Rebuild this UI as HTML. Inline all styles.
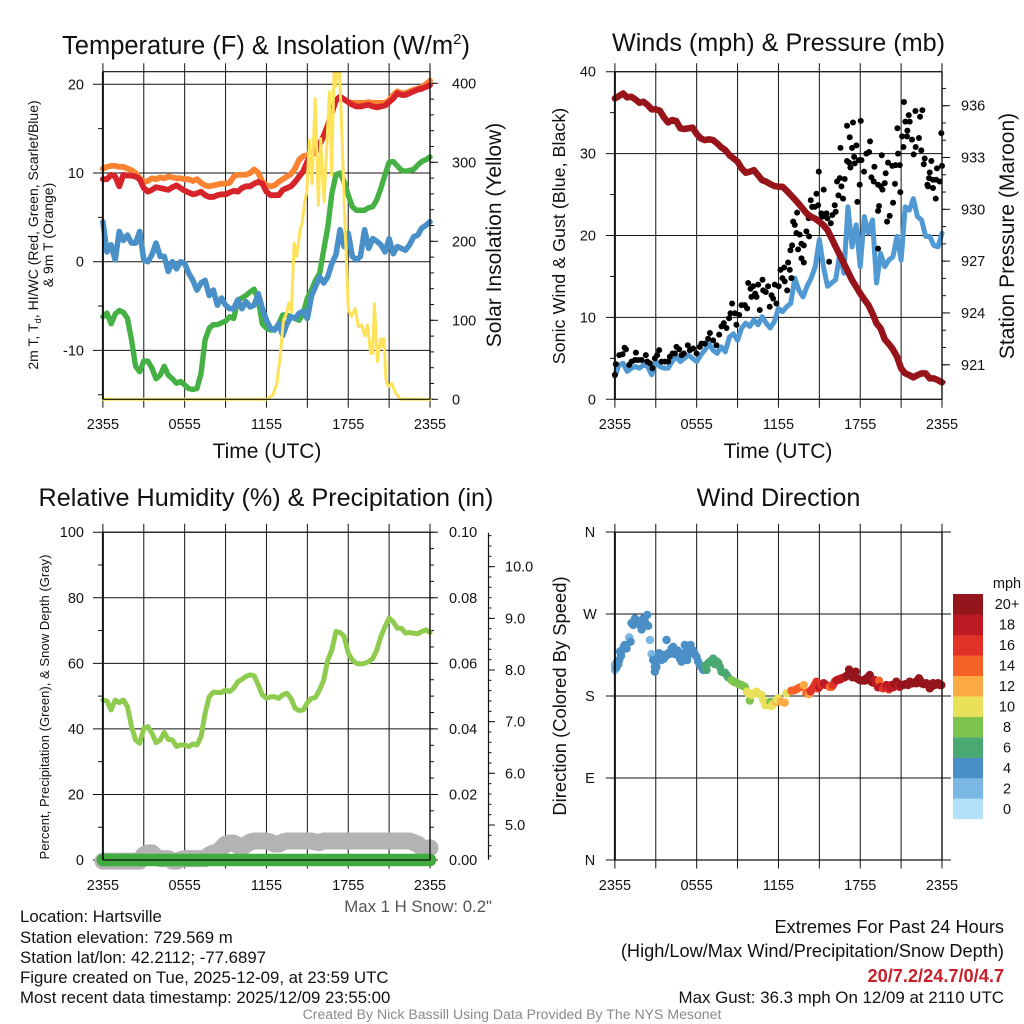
<!DOCTYPE html>
<html lang="en">
<head>
<meta charset="utf-8">
<title>Hartsville Mesonet Meteogram</title>
<style>
html,body{margin:0;padding:0;background:#fff;width:1024px;height:1024px;overflow:hidden}
svg{display:block}
text{font-family:"Liberation Sans",sans-serif;fill:#111}
</style>
</head>
<body>
<svg id="figure" xmlns="http://www.w3.org/2000/svg" width="1024" height="1024" viewBox="0 0 1024 1024">
<defs><clipPath id="solar-clip"><rect x="95" y="71.7" width="345" height="335"/></clipPath></defs>
<g id="layer-grid"></g>
<g id="layer-data"></g>
<g id="layer-axes"></g>

<text x="266" y="54" font-size="25.5" text-anchor="middle">Temperature (F) &amp; Insolation (W/m<tspan font-size="15" dy="-10">2</tspan><tspan dy="10">)</tspan></text>
<text x="778.5" y="51" font-size="25.2" text-anchor="middle">Winds (mph) &amp; Pressure (mb)</text>
<text x="266" y="506" font-size="25.2" text-anchor="middle">Relative Humidity (%) &amp; Precipitation (in)</text>
<text x="778.5" y="506" font-size="25.2" text-anchor="middle">Wind Direction</text>

<text x="267" y="458" font-size="21" text-anchor="middle">Time (UTC)</text>
<text x="778" y="458" font-size="21" text-anchor="middle">Time (UTC)</text>

<text transform="translate(38,235) rotate(-90)" font-size="14" text-anchor="middle">2m T, T<tspan font-size="9.5" dy="3">d</tspan><tspan dy="-3">, HI/WC (Red, Green, Scarlet/Blue)</tspan></text>
<text transform="translate(53,235) rotate(-90)" font-size="14" text-anchor="middle">&amp; 9m T (Orange)</text>
<text transform="translate(501,235) rotate(-90)" font-size="21" text-anchor="middle">Solar Insolation (Yellow)</text>
<text transform="translate(565,236) rotate(-90)" font-size="17.9" text-anchor="middle">Sonic Wind &amp; Gust (Blue, Black)</text>
<text transform="translate(1014,236) rotate(-90)" font-size="21" text-anchor="middle">Station Pressure (Maroon)</text>
<text transform="translate(49,707) rotate(-90)" font-size="13.1" text-anchor="middle">Percent, Precipitation (Green), &amp; Snow Depth (Gray)</text>
<text transform="translate(566,696) rotate(-90)" font-size="18.4" text-anchor="middle">Direction (Colored By Speed)</text>

<text x="492" y="912" font-size="16.8" text-anchor="end" style="fill:#555">Max 1 H Snow: 0.2"</text>
<text x="20" y="922" font-size="16.8">Location: Hartsville</text>
<text x="20" y="943" font-size="16.8">Station elevation: 729.569 m</text>
<text x="20" y="963" font-size="16.8">Station lat/lon: 42.2112; -77.6897</text>
<text x="20" y="983" font-size="16.8">Figure created on Tue, 2025-12-09, at 23:59 UTC</text>
<text x="20" y="1003" font-size="16.8">Most recent data timestamp: 2025/12/09 23:55:00</text>
<text x="1004" y="933" font-size="18.2" text-anchor="end">Extremes For Past 24 Hours</text>
<text x="1004" y="957" font-size="18.2" text-anchor="end">(High/Low/Max Wind/Precipitation/Snow Depth)</text>
<text x="1004" y="982" font-size="18.2" font-weight="bold" text-anchor="end" style="fill:#c8202a">20/7.2/24.7/0/4.7</text>
<text x="1004" y="1003" font-size="16.9" text-anchor="end">Max Gust: 36.3 mph On 12/09 at 2110 UTC</text>
<text x="512" y="1019" font-size="14.1" text-anchor="middle" style="fill:#8a8a8a">Created By Nick Bassill Using Data Provided By The NYS Mesonet</text>
</svg>

<script>
// ---------- categories and tick labels ----------
const timeTickLabels = ['2355','0555','1155','1755','2355'];
const tempTicks = [-10,0,10,20];
const tempMinorTicks = [-15,-5,5,15];
const solarTicks = [0,100,200,300,400];
const windTicks = [0,10,20,30,40];
const windMinorTicks = [5,15,25,35];
const pressureTicks = [921,924,927,930,933,936];
const humidityTicks = [0,20,40,60,80,100];
const humidityMinorTicks = [10,30,50,70,90];
const precipTicks = ['0.00','0.02','0.04','0.06','0.08','0.10'];
const snowTicks = ['5.0','6.0','7.0','8.0','9.0','10.0'];
const compassTicks = [['N',0],['E',90],['S',180],['W',270],['N',360]];
const speedBinLabels = ['0','2','4','6','8','10','12','14','16','18','20+'];
const speedBinColors = ['#b3e1f9','#7bb8e4','#4a8fc6','#4aa871','#7cc44e','#e9e159','#fbaa44','#f46227','#e03226','#bb1a23','#94151b'];

// ---------- series on an 18-minute grid (81 samples) ----------
const temp2m = [9.3,9.3,9.8,9.6,8.5,9.8,9.7,9.7,9.6,9.3,8.3,
 7.9,8.1,8.4,8.3,8.2,8.1,8.4,8.6,8.3,8.0,
 7.8,7.6,7.7,7.9,7.5,7.3,7.3,7.5,7.6,7.6,
 7.8,8.0,7.9,8.3,8.5,8.5,8.8,9.0,8.8,7.9,
 7.5,7.5,7.5,8.1,8.3,8.5,9.0,9.6,10.2,11.3,
 12.0,12.4,13.2,14.2,15.3,16.8,18.2,18.6,18.3,18.0,
 17.7,17.5,17.5,17.6,17.7,17.5,17.4,17.5,17.6,18.0,
 18.4,19.0,18.8,18.8,19.0,19.2,19.4,19.5,19.7,19.9];
const temp9m = [10.5,10.7,10.8,10.8,10.7,10.7,10.5,10.3,10.0,9.4,9.0,
 9.1,9.4,9.3,9.5,9.4,9.6,9.5,9.4,9.4,9.3,
 9.3,9.1,9.3,8.9,8.6,8.5,8.6,8.7,8.8,8.8,
 8.9,9.6,9.8,9.8,9.8,10.0,10.4,10.0,9.0,8.6,
 8.5,8.6,9.0,9.3,9.6,9.9,10.5,11.5,11.9,12.0,
 12.1,12.4,13.2,14.2,15.4,16.9,18.2,18.6,18.3,18.0,
 17.9,17.9,17.9,17.9,18.0,17.9,17.9,17.9,17.9,18.2,
 18.8,19.2,19.0,19.0,19.2,19.4,19.5,19.7,20.0,20.4];
const windChill = [4.5,1.1,1.9,0.2,3.4,2.4,3.0,2.1,2.1,3.4,0.2,
 0,0.8,2.1,0.6,0.6,-1.1,0,-0.8,0,-0.2,
 -1.3,-2.1,-3.2,-2.4,-2.1,-3.8,-3.2,-4.9,-4.1,-4.9,
 -5.3,-5.3,-4.3,-5.3,-4.5,-5.1,-4.9,-3.6,-5.3,-6.6,
 -7.5,-7.7,-7.0,-8.3,-7.0,-6.2,-6.4,-5.8,-5.6,-6.4,
 -3.9,-2.8,-1.7,-2.4,-1.7,-0.2,0.8,3.6,1.7,3.2,
 0.6,0.2,0.6,3.6,1.5,2.6,2.3,1.9,1.1,2.6,
 0.9,1.7,1.5,1.3,1.9,2.8,3.0,3.8,4.1,4.5];
const dewPoint = [-6.2,-5.8,-7.0,-5.9,-5.5,-5.7,-6.4,-8.8,-11.8,-12.4,-11.2,
 -11.2,-12.0,-13.2,-12.8,-11.8,-12.8,-13.2,-13.7,-13.5,-13.9,
 -14.3,-14.4,-14.3,-12.6,-8.8,-7.5,-7.1,-7.1,-6.9,-6.7,
 -6.2,-6.4,-4.3,-4.1,-3.8,-3.4,-3.1,-4.3,-7.0,-7.5,
 -7.7,-7.7,-7.0,-6.0,-6.0,-6.2,-6.4,-6.6,-5.8,-4.1,
 -3.2,-2.1,-1.3,1.3,3.9,7.7,9.8,10.0,9.0,7.5,
 6.2,5.8,5.8,5.8,6.1,6.2,7.0,8.3,9.8,11.2,
 11.3,10.8,10.3,10.2,10.3,10.4,10.9,11.3,11.5,11.8];
const sonicWind = [2.8,4.2,4.4,3.4,3.8,4.0,3.8,4.2,4.0,3.0,4.6,
 4.0,3.8,3.8,4.6,5.2,4.6,5.0,5.4,5.0,4.6,
 5.4,6.0,6.8,6.0,5.6,6.4,5.8,7.6,8.0,7.2,
 8.7,9.3,8.9,9.7,9.1,10.1,9.3,8.7,9.5,11.1,
 10.7,11.3,11.7,14.8,13.3,12.5,13.8,14.8,16.2,19.5,
 16.2,13.8,14.2,14.6,17.8,15.4,23.5,18.6,21.3,16.2,
 22.3,20.3,21.9,14.2,17.8,16.2,17.0,17.4,19.9,17.0,
 23.5,23.1,24.5,22.3,21.9,19.9,19.9,18.8,18.6,20.3];
const stationPressure = [936.42,936.56,936.71,936.48,936.52,936.37,936.17,936.23,936.04,935.79,935.79,
 935.71,935.32,935.03,935.17,935.11,934.69,934.65,934.69,934.73,934.36,
 934.11,934.01,934.05,934.01,933.82,933.59,933.43,933.14,932.95,932.76,
 932.37,932.12,932.18,932.27,931.98,931.69,931.6,931.46,931.35,931.31,
 931.31,931.08,930.83,930.58,930.31,930.02,929.73,929.57,929.46,929.28,
 929.09,928.8,928.32,927.83,927.35,926.87,926.39,925.9,925.52,925.13,
 924.78,924.46,923.97,923.39,923.1,922.47,922.2,921.89,921.46,920.79,
 920.5,920.4,920.27,920.4,920.5,920.5,920.21,920.21,920.11,919.98];
const relativeHumidity = [48.8,48.5,45.8,48.8,48,48.8,46.8,40.7,36.6,35.6,40.2,
 40.7,38.7,35.8,36.6,38.9,36.8,36.6,34.6,35.1,35.1,
 34.6,35.4,35.1,37.6,44.8,49.8,51.2,51.1,51.1,51.9,
 51.4,52.4,54.4,55.1,56,56.5,56.2,53.4,50.4,49.3,
 49.8,49.8,49.3,50.4,50.9,49.3,46.3,45.6,45.8,48,
 49.3,49.6,51.9,54.9,61,64.1,69.7,69.4,68.2,63.1,
 61,60,59.8,60,60.5,61.5,64.1,68.2,71.2,73.8,
 72.7,70.7,70.7,69.2,69.4,69.2,69,69.7,70.2,69.4];
const snowDepth = [4.30,4.30,4.30,4.30,4.30,4.30,4.30,4.30,4.30,4.30,4.42,
 4.46,4.46,4.38,4.35,4.35,4.35,4.30,4.30,4.33,4.35,
 4.35,4.35,4.35,4.35,4.35,4.42,4.46,4.46,4.55,4.63,
 4.65,4.65,4.60,4.56,4.62,4.67,4.69,4.69,4.69,4.69,
 4.67,4.63,4.63,4.67,4.69,4.69,4.69,4.69,4.69,4.69,
 4.69,4.67,4.66,4.69,4.69,4.69,4.69,4.69,4.69,4.69,
 4.69,4.69,4.69,4.69,4.69,4.69,4.69,4.69,4.69,4.69,
 4.69,4.69,4.69,4.69,4.69,4.66,4.63,4.56,4.53,4.56];
const precipitation = [0,0,0,0,0,0,0,0,0,0,0,0,0,0,0,0,0,0,0,0,0,0,0,0,0,0,0,0,0,0,0,0,0,0,0,0,0,0,0,0,0,
 0,0,0,0,0,0,0,0,0,0,0,0,0,0,0,0,0,0,0,0,0,0,0,0,0,0,0,0,0,0,0,0,0,0,0,0,0,0,0,0];

// ---------- solar radiation (hours since start, W/m2) ----------
const solarHours = [0,12.02,12.46,12.76,13.0,13.25,13.49,13.64,13.83,14.03,14.22,14.47,14.62,14.83,14.96,15.15,15.35,15.57,15.81,15.98,16.23,16.62,16.79,16.96,17.06,17.18,17.35,17.52,17.77,18.01,18.26,18.5,18.75,18.99,19.23,19.41,19.65,19.8,19.92,20.14,20.38,20.53,20.63,20.77,20.94,21.19,21.43,21.8,24];
const solarValues = [0,0,5,20,54,100,110,122,110,198,181,215,223,253,262,328,273,381,246,330,250,389,284,418,396,418,418,345,218,113,105,115,92,94,80,94,58,58,121,48,77,67,77,25,16,20,10,0,0];

// ---------- gust observations (hours since start, mph) ----------
const gustHours = [0,0.07,0.32,0.56,0.71,0.81,1.05,1.22,1.47,1.54,1.71,1.96,2.27,2.37,2.57,2.76,2.93,3.1,3.25,3.42,3.67,3.91,4.03,4.23,4.4,4.52,4.72,4.89,5.06,5.35,5.5,5.74,5.99,6.23,6.35,6.6,6.84,6.97,7.21,7.45,7.65,7.82,7.99,8.19,8.38,8.48,8.6,8.8,8.92,9.12,9.29,9.53,9.7,9.78,9.95,10.02,10.14,10.29,10.39,10.51,10.63,10.83,10.88,11.07,11.24,11.36,11.49,11.61,11.73,11.85,12.02,12.15,12.29,12.42,12.46,12.64,12.71,12.83,12.95,12.88,13.0,13.08,13.2,13.32,13.37,13.44,13.56,13.69,13.69,13.86,13.86,14.05,14.25,14.22,14.37,14.47,14.66,14.79,14.91,14.96,15.15,15.23,15.32,15.52,15.59,15.72,15.84,15.96,16.13,16.2,16.3,16.4,16.5,16.55,16.62,16.74,16.86,17.03,17.03,17.18,17.23,17.28,17.4,17.47,17.55,17.6,17.72,17.79,17.91,17.96,18.04,18.09,18.28,18.45,18.65,18.72,18.82,18.99,19.04,19.31,19.31,19.31,19.38,19.5,19.58,19.63,19.8,19.87,19.97,20.04,20.16,20.36,20.41,20.55,20.6,20.73,20.77,20.9,20.94,21.07,21.17,21.21,21.31,21.43,21.46,21.56,21.63,21.8,21.92,22.05,22.07,22.31,22.39,22.48,22.56,22.66,22.73,22.93,22.97,23.05,23.1,23.22,23.34,23.34,23.54,23.58,23.63,23.83,23.95,24];
const gustSpeeds = [3.0,4.3,5.4,5.5,6.3,6.1,4.2,4.6,4.8,5.7,4.8,4.8,5.4,4.6,4.4,3.8,5.0,5.4,6.0,4.6,4.6,4.6,5.2,5.6,5.6,6.4,6.1,5.4,5.6,6.6,6.0,6.2,5.6,6.4,6.8,6.8,7.4,8.1,7.2,6.6,7.9,8.9,9.3,8.7,9.9,10.5,11.7,10.5,9.1,10.3,11.5,11.5,11.1,14.2,13.5,12.5,13.8,12.9,12.5,14.0,10.9,14.6,13.3,13.1,13.8,11.3,12.7,12.3,14.0,11.7,13.8,15.8,14.8,16.1,14.4,13.3,16.7,15.8,14.8,18.2,18.8,21.7,21.3,20.3,22.8,18.3,20.1,19.0,17.2,18.8,16.7,20.5,19.9,22.1,24.3,23.5,23.5,25.1,23.7,27.8,22.7,22.3,25.6,22.7,22.1,16.8,21.5,22.5,23.7,22.9,26.6,24.9,27.0,30.7,26.0,24.5,26.9,33.4,29.1,28.9,32.0,28.3,30.7,33.8,29.6,28.8,31.0,24.1,29.2,26.2,34.0,29.2,27.8,30.0,30.2,31.5,27.1,26.6,28.4,26.2,23.0,18.4,23.6,26.0,29.8,25.6,26.4,27.6,21.7,28.9,22.4,28.5,24.0,26.3,28.6,33.1,30.0,28.6,25.3,32.1,30.8,36.3,33.9,32.1,32.8,34.7,33.9,31.7,29.9,35.2,30.8,31.9,34.5,30.4,35.3,28.7,29.4,26.2,26.0,27.0,27.7,29.1,26.8,25.8,24.5,26.8,28.2,26.6,32.5,28.5];

// ---------- wind direction observations (hours, degrees, mph) ----------
const directionHours = [0,0,0.12,0.17,0.25,0.32,0.37,0.45,0.56,0.65,0.73,0.86,1.05,1.15,1.22,1.34,1.4,1.47,1.59,1.7,1.83,1.96,2.0,2.08,2.2,2.37,2.44,2.57,2.69,2.81,2.93,2.93,3.05,3.15,3.25,3.3,3.42,3.54,3.6,3.75,3.79,3.91,4.0,4.16,4.28,4.4,4.52,4.6,4.77,4.89,5.0,5.13,5.2,5.31,5.45,5.55,5.69,5.8,5.9,5.99,6.1,6.23,6.35,6.48,6.6,6.72,6.72,6.85,6.97,7.1,7.21,7.33,7.45,7.58,7.7,7.82,7.95,8.07,8.2,8.31,8.55,8.7,8.8,8.92,9.1,9.29,9.4,9.53,9.7,9.8,9.9,10.02,10.2,10.39,10.6,10.75,10.88,11.05,11.2,11.3,11.41,11.49,11.6,11.85,11.9,11.98,12.2,12.46,12.59,12.95,13.1,13.32,13.5,13.69,13.86,14.05,14.15,14.25,14.35,14.42,14.59,14.7,14.79,14.91,15.0,15.15,15.32,15.5,15.76,15.9,16.0,16.13,16.25,16.37,16.5,16.62,16.75,16.86,16.99,17.1,17.18,17.3,17.42,17.55,17.67,17.8,17.96,18.1,18.33,18.45,18.6,18.7,18.8,18.94,19.06,19.15,19.31,19.38,19.5,19.67,19.8,19.92,20.0,20.11,20.2,20.28,20.41,20.55,20.65,20.8,20.9,21.0,21.14,21.3,21.51,21.63,21.75,21.87,22.0,22.12,22.2,22.31,22.4,22.48,22.65,22.85,23.0,23.1,23.2,23.34,23.46,23.6,23.71,23.85,23.95];
const directionDegrees = [214,208.5,211.5,217.7,215,219.5,228.7,224,230.5,234,236,232.3,244.4,239.6,260,258,262,265,263,261,258,253,259,265,262,269,257,241.5,226,219.5,206.7,212,212,220,227,222,219.5,225,221,224,241.5,227,226,232,234,226,227,230,221,217.7,226,236,229,219.5,226,236,230.5,228,225,223,218,214,212,208.5,213,214,208.5,216,217.7,219,221,215,218,216.6,212,206.7,206,205.6,203,200.5,197.5,196,195,194.6,193,192,191,190,184.7,183,175,181,183,184.7,182,181,175.6,170,170,170,173.8,169,171,173.8,176,177.5,174,172.7,183,185.8,186,187.3,189,190,192,183,184,182,185,186.6,190,193,195.7,188.4,190,192,194,192,190,190,192,195.7,197,198,198,199.4,200,200.5,202,203,209,202,200.5,203,206.7,199,197.5,197,196.8,199.4,199,203,196,194.6,197.5,194,189.5,196.8,190,188.4,190,192,189,187.3,189,192,189.5,193,195.7,192,190,192,192,193,192,195.7,194,194,195,194,197,199.4,197,194,193,194,192,188.4,190,194,192,193,194,192,192];
const directionSpeeds = [3,3,4.5,4.5,4.5,4.5,4.5,4.5,4.5,4.5,4.5,4.5,3,4.5,4.5,4.5,4.5,4.5,4.5,4.5,4.5,4.5,4.5,4.5,4.5,4.5,4.5,3,3,4.5,4.5,4.5,4.5,4.5,4.5,4.5,4.5,4.5,4.5,4.5,4.5,4.5,4.5,4.5,4.5,4.5,4.5,4.5,4.5,4.5,4.5,4.5,4.5,4.5,4.5,4.5,4.5,4.5,4.5,4.5,4.5,4.5,4.5,4.5,6.5,6.5,6.5,6.5,6.5,6.5,6.5,6.5,6.5,6.5,6.5,6.5,6.5,6.5,6.5,6.5,8.5,8.5,8.5,8.5,8.5,8.5,8.5,8.5,10.5,10.5,8.5,10.5,10.5,10.5,10.5,10.5,10.5,10.5,10.5,10.5,8.5,10.5,10.5,12.5,10.5,10.5,12.5,12.5,10.5,14.5,14.5,14.5,14.5,14.5,12.5,14.5,14.5,12.5,16.5,16.5,16.5,16.5,17,16.5,18.5,16.5,18.5,18.5,14.5,14.5,16.5,16.5,18.5,18.5,18.5,18.5,18.5,18.5,20.5,20.5,20.5,20.5,20.5,20.5,20.5,20.5,20.5,20.5,20.5,20.5,20.5,20.5,20.5,20.5,18.5,18.5,18.5,14.5,18.5,16.5,16.5,18.5,18.5,16.5,18.5,18.5,18.5,20.5,20.5,18.5,18.5,20.5,20.5,20.5,20.5,20.5,20.5,20.5,20.5,20.5,20.5,20.5,20.5,20.5,20.5,20.5,20.5,20.5,20.5,20.5,20.5,20.5,20.5,20.5,20.5,20.5,20.5,20.5];

// ---------- axis functions ----------
const plotWidth = 327.1;
const leftA = 102.9, leftB = 614.9;
const topUpper = 71.7, bottomUpper = 399.3, topLower = 532.2, bottomLower = 860;
const timeX = (left, h) => left + h / 24 * plotWidth;
const tempY = v => 261.7 - v * 8.87;
const solarY = v => 399.3 - v * 0.79;
const windY = v => 399.3 - v * 8.19;
const pressureY = v => 105.7 + (936 - v) * 17.27;
const humidityY = v => 860 - v * 3.278;
const precipY = v => 860 - v * 3278;
const snowY = v => 825 - (v - 5) * 51.67;
const directionY = v => 860 - v * 0.9111;

// ---------- drawing helpers ----------
const NS = 'http://www.w3.org/2000/svg';
const gridLayer = document.getElementById('layer-grid');
const dataLayer = document.getElementById('layer-data');
const axesLayer = document.getElementById('layer-axes');

function drawLine(parent, x1, y1, x2, y2, width, name) {
  const el = document.createElementNS(NS, 'line');
  el.setAttribute('x1', x1);
  el.setAttribute('y1', y1);
  el.setAttribute('x2', x2);
  el.setAttribute('y2', y2);
  el.setAttribute('stroke', '#111');
  el.setAttribute('stroke-width', width);
  
  
  parent.appendChild(el);
}
function drawLabel(x, y, anchor, content, name) {
  const el = document.createElementNS(NS, 'text');
  el.setAttribute('x', x);
  el.setAttribute('y', y);
  el.setAttribute('text-anchor', anchor);
  el.setAttribute('font-size', '14.5');
  el.textContent = content;
  
  
  axesLayer.appendChild(el);
}
function drawSeries(xs, ys, color, width, name, clip) {
  let d = '';
  xs.forEach((x, i) => { d += (i ? 'L' : 'M') + x.toFixed(2) + ' ' + ys[i].toFixed(2); });
  const el = document.createElementNS(NS, 'path');
  el.setAttribute('d', d);
  el.setAttribute('fill', 'none');
  el.setAttribute('stroke', color);
  el.setAttribute('stroke-width', width);
  el.setAttribute('stroke-linejoin', 'round');
  el.setAttribute('stroke-linecap', 'round');
  if (clip) el.setAttribute('clip-path', clip);
  
  
  dataLayer.appendChild(el);
}
function drawDot(x, y, r, color, name) {
  const el = document.createElementNS(NS, 'circle');
  el.setAttribute('cx', x.toFixed(2));
  el.setAttribute('cy', y.toFixed(2));
  el.setAttribute('r', r);
  el.setAttribute('fill', color);
  
  
  dataLayer.appendChild(el);
}
const gridStep = 0.3;
const gridX = (left, series) => series.map((_, i) => timeX(left, i * gridStep));

// ---------- shared frame: vertical time grid and labels ----------
function drawTimeAxis(left, top, bottom, labelY, prefix) {
  for (let i = 0; i <= 8; i++) {
    const x = left + i * plotWidth / 8;
    drawLine(gridLayer, x, top - 8.5, x, bottom + 8.5, 1, prefix + '-time-gridline');
  }
  timeTickLabels.forEach((label, i) => {
    drawLabel(left + i * plotWidth / 4, labelY, 'middle', label, prefix + '-time-tick-label');
  });
  drawLine(axesLayer, left, top, left, bottom, 2, prefix + '-left-spine');
  drawLine(axesLayer, left + plotWidth, top, left + plotWidth, bottom, 1.4, prefix + '-right-spine');
  drawLine(axesLayer, left, top, left + plotWidth, top, 1.2, prefix + '-top-spine');
  drawLine(axesLayer, left, bottom, left + plotWidth, bottom, 1.2, prefix + '-bottom-spine');
}

// ---------- temperature and insolation panel ----------
drawTimeAxis(leftA, topUpper, bottomUpper, 429, 'temperature');
tempTicks.forEach(v => {
  drawLine(gridLayer, leftA - 10, tempY(v), leftA + plotWidth, tempY(v), 1, 'temperature-gridline');
  drawLabel(84, tempY(v) + 5, 'end', String(v), 'temperature-tick-label');
});
tempMinorTicks.forEach(v => {
  drawLine(gridLayer, leftA - 5, tempY(v), leftA, tempY(v), 1, 'temperature-minor-tick');
});
solarTicks.forEach(v => {
  drawLine(gridLayer, leftA + plotWidth, solarY(v), leftA + plotWidth + 8, solarY(v), 1, 'solar-tick');
  drawLabel(452, solarY(v) + 5, 'start', String(v), 'solar-tick-label');
});
for (let i = 0; i <= 20; i++) {
  drawLine(gridLayer, leftA + plotWidth, solarY(i * 20), leftA + plotWidth + 4, solarY(i * 20), 1, 'solar-minor-tick');
}
drawSeries(gridX(leftA, temp9m), temp9m.map(tempY), '#fa8231', 5.8, 'temperature-9m-line');
drawSeries(gridX(leftA, temp2m), temp2m.map(tempY), '#d7232a', 5.8, 'temperature-2m-line');
drawSeries(gridX(leftA, dewPoint), dewPoint.map(tempY), '#45b145', 5.4, 'dew-point-line');
drawSeries(gridX(leftA, windChill), windChill.map(tempY), '#4a90c8', 5.6, 'wind-chill-line');
drawSeries(solarHours.map(h => timeX(leftA, h)), solarValues.map(solarY), '#fde25a', 3, 'solar-insolation-line', 'url(#solar-clip)');

// ---------- winds and pressure panel ----------
drawTimeAxis(leftB, topUpper, bottomUpper, 429, 'winds');
windTicks.forEach(v => {
  drawLine(gridLayer, leftB - 9, windY(v), leftB + plotWidth, windY(v), 1, 'winds-gridline');
  drawLabel(596, windY(v) + 5, 'end', String(v), 'winds-tick-label');
});
windMinorTicks.forEach(v => {
  drawLine(gridLayer, leftB - 5, windY(v), leftB, windY(v), 1, 'winds-minor-tick');
});
pressureTicks.forEach(v => {
  drawLine(gridLayer, leftB + plotWidth, pressureY(v), leftB + plotWidth + 8, pressureY(v), 1, 'pressure-tick');
  drawLabel(961, pressureY(v) + 5, 'start', String(v), 'pressure-tick-label');
});
for (let p = 920; p <= 937; p++) {
  drawLine(gridLayer, leftB + plotWidth, pressureY(p), leftB + plotWidth + 4, pressureY(p), 1, 'pressure-minor-tick');
}
drawSeries(gridX(leftB, sonicWind), sonicWind.map(windY), '#5199d3', 5, 'sonic-wind-line');
gustHours.forEach((h, i) => {
  drawDot(timeX(leftB, h), windY(gustSpeeds[i]), 3, '#000', 'gust-point');
});
drawSeries(gridX(leftB, stationPressure), stationPressure.map(pressureY), '#96141a', 6.5, 'station-pressure-line');

// ---------- humidity and precipitation panel ----------
drawTimeAxis(leftA, topLower, bottomLower, 890, 'humidity');
humidityTicks.forEach(v => {
  drawLine(gridLayer, leftA - 10, humidityY(v), leftA + plotWidth + 8, humidityY(v), 1, 'humidity-gridline');
  drawLabel(84, humidityY(v) + 5, 'end', String(v), 'humidity-tick-label');
});
humidityMinorTicks.forEach(v => {
  drawLine(gridLayer, leftA - 5, humidityY(v), leftA, humidityY(v), 1, 'humidity-minor-tick');
});
precipTicks.forEach(label => {
  drawLabel(449, precipY(Number(label)) + 5, 'start', label, 'precipitation-tick-label');
});
for (let i = 0; i <= 20; i++) {
  drawLine(gridLayer, leftA + plotWidth, precipY(i * 0.005), leftA + plotWidth + 4, precipY(i * 0.005), 1, 'precipitation-minor-tick');
}
drawLine(axesLayer, 488.5, 532.7, 488.5, 859.7, 1.2, 'snow-axis-line');
snowTicks.forEach(label => {
  drawLine(axesLayer, 488.5, snowY(Number(label)), 495, snowY(Number(label)), 1, 'snow-tick');
  drawLabel(505, snowY(Number(label)) + 5, 'start', label, 'snow-tick-label');
});
for (let i = 22; i <= 53; i++) {
  drawLine(axesLayer, 488.5, snowY(i / 5), 491.5, snowY(i / 5), 1, 'snow-minor-tick');
}
drawSeries(gridX(leftA, snowDepth), snowDepth.map(snowY), '#b3b3b3', 17, 'snow-depth-line');
drawSeries(gridX(leftA, relativeHumidity), relativeHumidity.map(humidityY), '#8fcb4f', 5, 'relative-humidity-line');
drawSeries(gridX(leftA, precipitation), precipitation.map(precipY), '#41ab40', 12.6, 'precipitation-line');

// ---------- wind direction panel ----------
drawTimeAxis(leftB, topLower, bottomLower, 890, 'direction');
compassTicks.forEach(tick => {
  drawLine(gridLayer, leftB - 9, directionY(tick[1]), leftB + plotWidth + 9, directionY(tick[1]), 1, 'direction-gridline');
  drawLabel(590, directionY(tick[1]) + 5, 'middle', tick[0], 'direction-tick-label');
});
directionHours.forEach((h, i) => {
  const bin = Math.min(speedBinColors.length - 1, Math.floor(directionSpeeds[i] / 2));
  drawDot(timeX(leftB, h), directionY(directionDegrees[i]), 4.2, speedBinColors[bin], 'direction-point');
});

// ---------- speed colorbar ----------
const barTop = 594, barBottom = 819, barX = 953, barWidth = 30;
const barStep = (barBottom - barTop) / speedBinColors.length;
speedBinColors.forEach((color, i) => {
  const el = document.createElementNS(NS, 'rect');
  el.setAttribute('x', barX);
  el.setAttribute('y', barBottom - (i + 1) * barStep);
  el.setAttribute('width', barWidth);
  el.setAttribute('height', barStep + 0.2);
  el.setAttribute('fill', color);
  
  
  axesLayer.appendChild(el);
  drawLabel(1007, barBottom - (i + 0.5) * barStep + 5, 'middle', speedBinLabels[i], 'speed-legend-label');
});
drawLabel(1007, 588, 'middle', 'mph', 'speed-legend-unit');
</script>
</body>
</html>
